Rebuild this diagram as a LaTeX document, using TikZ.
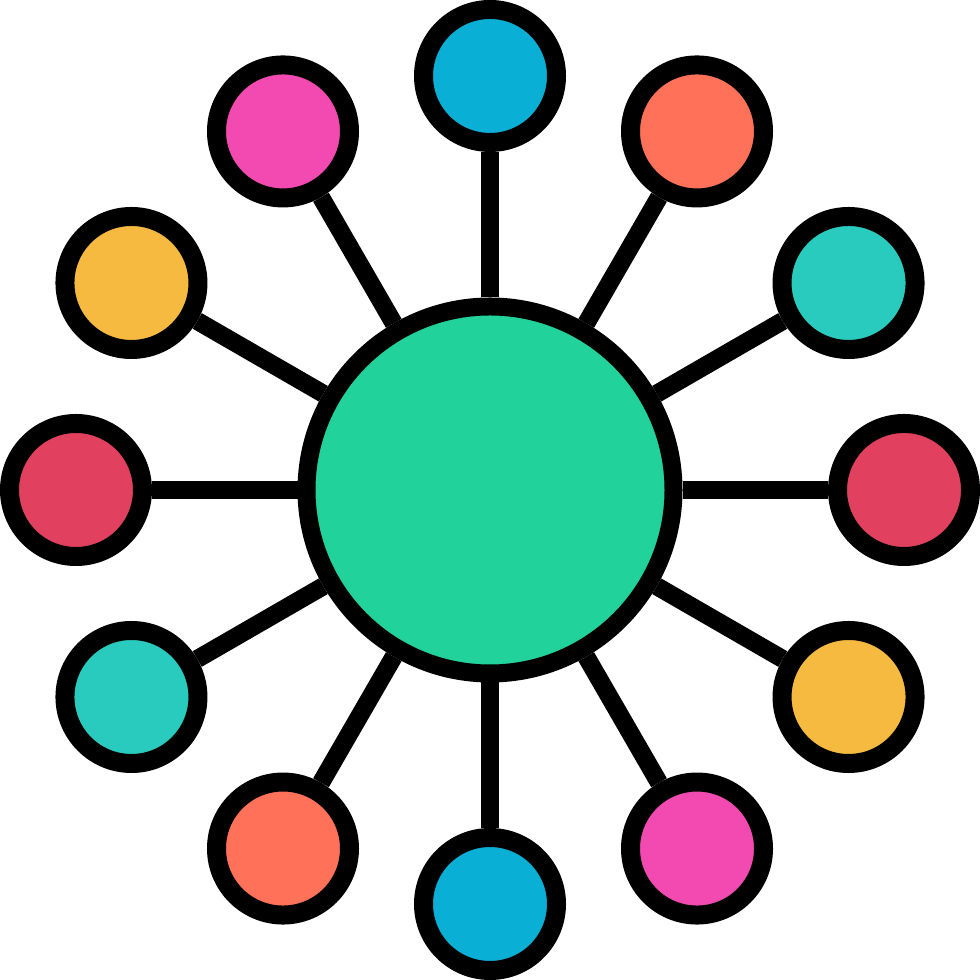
\documentclass[tikz,border=0pt]{standalone}
\usetikzlibrary{backgrounds}
\definecolor{cblue}{HTML}{0AAFD6}
\definecolor{corange}{HTML}{FF7158}
\definecolor{cteal}{HTML}{2ACBBF}
\definecolor{cred}{HTML}{E2405F}
\definecolor{cyellow}{HTML}{F7BA40}
\definecolor{cpink}{HTML}{F24AB1}
\definecolor{cgreen}{HTML}{22D29B}
\tikzset{
  hub/.style={circle, draw=black, line width=0.18cm, fill=cgreen, minimum size=3.67cm, inner sep=0pt},
  leaf/.style={circle, draw=black, line width=0.19cm, minimum size=1.33cm, inner sep=0pt},
  spoke/.style={draw=black, line width=0.18cm}
}
\begin{document}
\begin{tikzpicture}
\useasboundingbox (-4.9,-4.9) rectangle (4.9,4.9);
\node[hub] (c) at (0,0) {};
\node[leaf, fill=cblue]   (n90)  at (90:4.14) {};
\node[leaf, fill=corange] (n60)  at (60:4.14) {};
\node[leaf, fill=cteal]   (n30)  at (30:4.14) {};
\node[leaf, fill=cred]    (n0)   at (0:4.14) {};
\node[leaf, fill=cyellow] (n330) at (-30:4.14) {};
\node[leaf, fill=cpink]   (n300) at (-60:4.14) {};
\node[leaf, fill=cblue]   (n270) at (-90:4.14) {};
\node[leaf, fill=corange] (n240) at (-120:4.14) {};
\node[leaf, fill=cteal]   (n210) at (-150:4.14) {};
\node[leaf, fill=cred]    (n180) at (180:4.14) {};
\node[leaf, fill=cyellow] (n150) at (150:4.14) {};
\node[leaf, fill=cpink]   (n120) at (120:4.14) {};
\begin{scope}[on background layer]
\foreach \a in {90,60,30,0,330,300,270,240,210,180,150,120}
  \draw[spoke] (c) -- (n\a);
\end{scope}
\end{tikzpicture}
\end{document}
